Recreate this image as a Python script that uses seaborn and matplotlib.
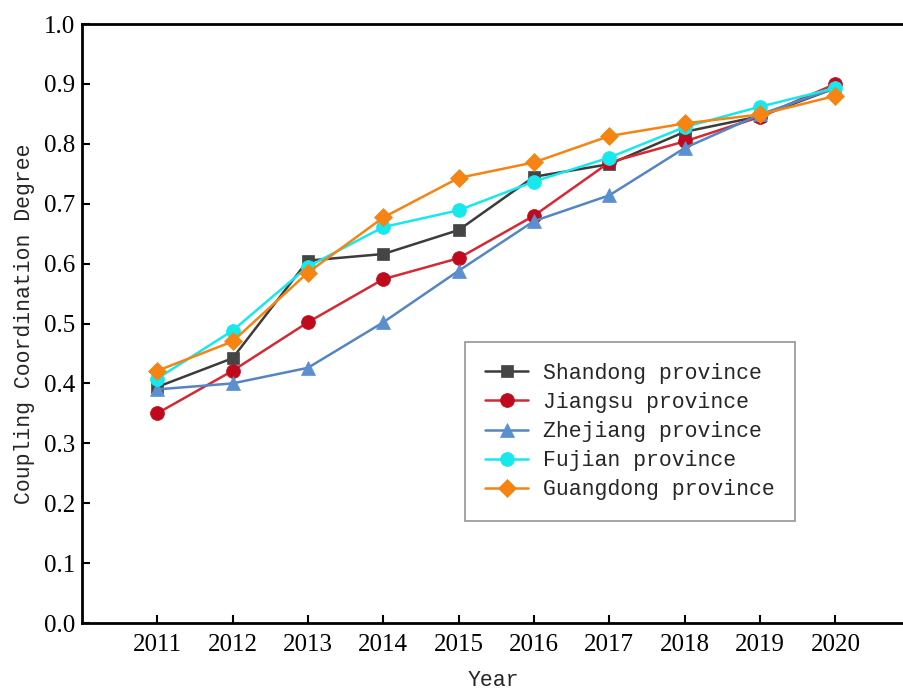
import matplotlib
matplotlib.use("Agg")
import matplotlib.pyplot as plt
import seaborn as sns
import pandas as pd

years = [2011, 2012, 2013, 2014, 2015, 2016, 2017, 2018, 2019, 2020]
provinces = ["Shandong province", "Jiangsu province", "Zhejiang province",
             "Fujian province", "Guangdong province"]

shandong = [0.394, 0.442, 0.605, 0.616, 0.656, 0.745, 0.766, 0.820, 0.846, 0.893]
jiangsu = [0.350, 0.421, 0.502, 0.574, 0.609, 0.680, 0.769, 0.804, 0.845, 0.900]
zhejiang = [0.390, 0.400, 0.426, 0.502, 0.588, 0.671, 0.714, 0.793, 0.849, 0.893]
fujian = [0.408, 0.488, 0.595, 0.661, 0.689, 0.737, 0.777, 0.828, 0.862, 0.893]
guangdong = [0.421, 0.470, 0.585, 0.677, 0.743, 0.769, 0.813, 0.834, 0.849, 0.880]

series = [shandong, jiangsu, zhejiang, fujian, guangdong]
line_colors = ["#3c3c3c", "#d42a35", "#5585c2", "#16e8ee", "#f58413"]
face_colors = ["#454545", "#bf0a1e", "#5a8fd0", "#16e8ee", "#f58413"]
markers = ["s", "o", "^", "o", "D"]
msizes = [9, 10, 10, 10, 9]

df = pd.DataFrame({
    "Year": years * len(provinces),
    "Value": [v for s in series for v in s],
    "Province": [p for p in provinces for _ in years],
})

sns.set_style("ticks")
plt.rcParams["font.family"] = ["Liberation Serif", "DejaVu Serif"]
plt.rcParams["savefig.bbox"] = None

fig = plt.figure(figsize=(9.04, 6.90), dpi=100)
ax_left = 0.0905
ax = fig.add_axes([ax_left, 0.0971, 1.0 - ax_left, 0.8681])

for prov, lc, fc, mk, ms in zip(provinces, line_colors, face_colors, markers, msizes):
    sub = df[df["Province"] == prov]
    sns.lineplot(data=sub, x="Year", y="Value", ax=ax, color=lc, linewidth=1.8,
                 marker=mk, markersize=ms, markerfacecolor=fc,
                 markeredgecolor=fc, markeredgewidth=0.5, label=prov)

# the frame is open on the right: the x-range stops just short of 2021
ax.set_xlim(2010, 2010 + (1.0 - ax_left) / 0.917 * 11)
ax.set_ylim(0.0, 1.0)
ax.set_xticks(years)
ax.set_xticklabels([str(y) for y in years])
ax.set_yticks([i / 10 for i in range(11)])
ax.set_yticklabels([f"{i / 10:.1f}" for i in range(11)])
ax.tick_params(axis="both", direction="in", length=6, width=1.5,
               labelsize=18, colors="black")
ax.tick_params(axis="x", pad=8)
ax.tick_params(axis="y", pad=5)
for side in ["left", "bottom", "top"]:
    ax.spines[side].set_visible(True)
    ax.spines[side].set_linewidth(2.0)
    ax.spines[side].set_color("black")
ax.spines["right"].set_visible(False)

mono = {"family": ["Liberation Mono", "DejaVu Sans Mono"], "size": 15.5}
ax.set_xlabel("Year", fontdict=mono, labelpad=10)
ax.set_ylabel("Coupling Coordination Degree", fontdict=mono, labelpad=6)

leg = ax.legend(loc="upper left", bbox_to_anchor=(0.514, 0.504),
                bbox_transform=fig.transFigure, frameon=True, fancybox=False,
                prop={"family": ["Liberation Mono", "DejaVu Sans Mono"], "size": 15.5},
                handlelength=2.0, handletextpad=0.7, labelspacing=0.38,
                borderpad=0.95, borderaxespad=0)
leg.get_frame().set_edgecolor("#7a7a7a")
leg.get_frame().set_linewidth(1.2)

fig.savefig("out.png", dpi=100, bbox_inches=None)
